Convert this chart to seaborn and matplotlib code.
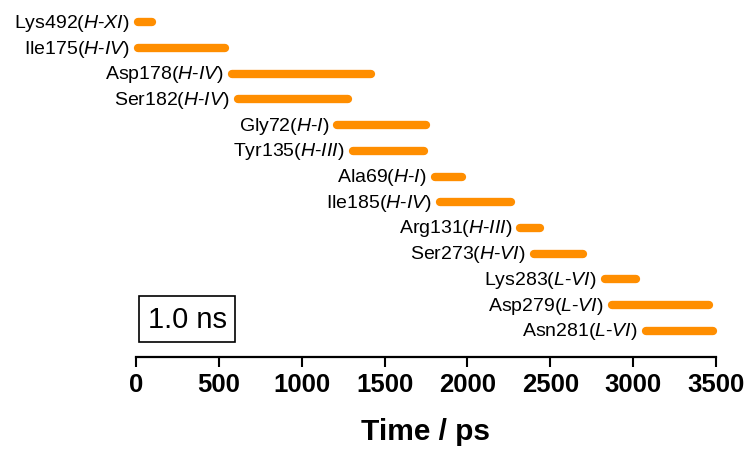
import matplotlib
matplotlib.use("Agg")
import matplotlib.pyplot as plt
import seaborn as sns
import pandas as pd

# Residue contact windows along the trajectory (ps)
residues = ["Lys492", "Ile175", "Asp178", "Ser182", "Gly72", "Tyr135", "Ala69",
            "Ile185", "Arg131", "Ser273", "Lys283", "Asp279", "Asn281"]
regions = ["H-XI", "H-IV", "H-IV", "H-IV", "H-I", "H-III", "H-I",
           "H-IV", "H-III", "H-VI", "L-VI", "L-VI", "L-VI"]
start_ps = [15, 15, 580, 615, 1215, 1310, 1805, 1835, 2320, 2400, 2830, 2870, 3080]
end_ps = [95, 540, 1420, 1280, 1750, 1735, 1970, 2265, 2435, 2695, 3015, 3460, 3480]
xticks = [0, 500, 1000, 1500, 2000, 2500, 3000, 3500]
window_label = "1.0 ns"

sns.set_theme(style="white")
plt.rcParams["font.family"] = ["Liberation Sans", "DejaVu Sans"]
plt.rcParams["mathtext.fontset"] = "custom"
plt.rcParams["mathtext.rm"] = "Liberation Sans"
plt.rcParams["mathtext.it"] = "Liberation Sans:italic"
plt.rcParams["text.color"] = "black"
plt.rcParams["axes.labelcolor"] = "black"
plt.rcParams["xtick.color"] = "black"

rows = list(range(len(residues)))
df = pd.DataFrame({
    "residue": residues * 2,
    "row": rows * 2,
    "time": start_ps + end_ps,
})

fig = plt.figure(figsize=(7.49, 4.56), dpi=100)
ax = fig.add_axes([136 / 749, (456 - 358) / 456, 580 / 749, 358 / 456])

orange = "#FF8E00"
sns.lineplot(data=df, x="time", y="row", units="residue", estimator=None,
             sort=False, color=orange, lw=6, solid_capstyle="round",
             ax=ax, clip_on=False, legend=False)

for r, name, reg, s in zip(rows, residues, regions, start_ps):
    parts = reg.split("-")
    label = name + "($\\it{" + parts[0] + "}$-$\\it{" + parts[1] + "}$)"
    ax.annotate(label, xy=(s, r), xytext=(-6, 0), textcoords="offset points",
                ha="right", va="center", fontsize=14, color="black",
                annotation_clip=False)

ax.text(308, 11.55, window_label, ha="center", va="center", fontsize=21,
        color="black",
        bbox=dict(boxstyle="square,pad=0.3", fc="white", ec="black", lw=1.2))

ax.set_xlim(0, 3500)
ax.set_ylim(13.02, -0.907)
ax.set_yticks([])
ax.set_ylabel("")
ax.set_xticks(xticks)
ax.set_xticklabels([str(t) for t in xticks], fontsize=18.5, fontweight="bold")
ax.tick_params(axis="x", direction="out", length=7, width=1.5, pad=4,
               bottom=True, colors="black")
for side in ["top", "right", "left"]:
    ax.spines[side].set_visible(False)
ax.spines["bottom"].set_linewidth(1.6)
ax.spines["bottom"].set_color("black")
ax.set_xlabel("Time / ps", fontsize=21.5, fontweight="bold", labelpad=15,
              color="black")
ax.patch.set_alpha(0)

fig.savefig("out.png", dpi=100)
